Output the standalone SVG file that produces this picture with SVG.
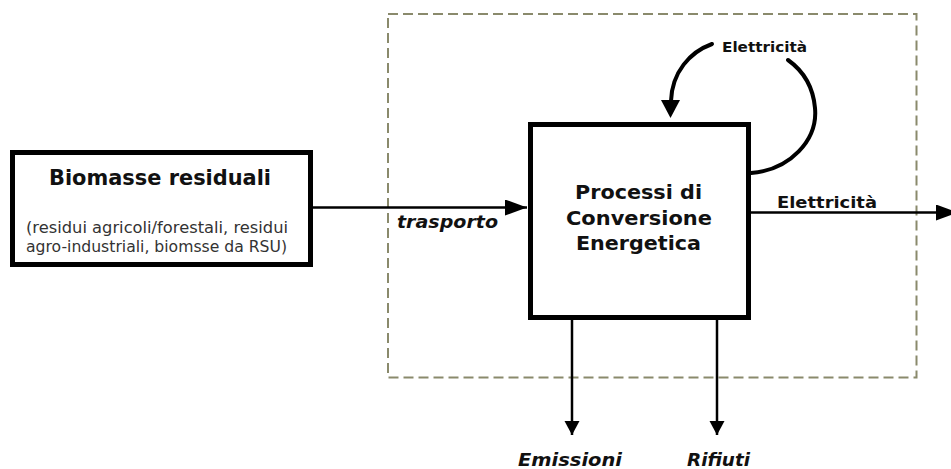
<svg xmlns="http://www.w3.org/2000/svg" width="951" height="469" viewBox="0 0 951 469">
<style>
.box{fill:#fff;stroke:#000;stroke-width:5}
.ln{fill:none;stroke:#000;stroke-width:2.5}
.thick{fill:none;stroke:#000;stroke-width:4;stroke-linecap:round}
.b{font-family:"DejaVu Sans",Verdana,sans-serif;font-weight:bold;fill:#111}
.bi{font-family:"DejaVu Sans",Verdana,sans-serif;font-weight:bold;font-style:italic;fill:#111}
.r{font-family:"DejaVu Sans",Verdana,sans-serif;fill:#333}
</style>
<defs>
<marker id="ah" markerUnits="userSpaceOnUse" markerWidth="24" markerHeight="16" refX="22" refY="8" orient="auto">
<path d="M0,0 L22,8 L0,16 Z" fill="#000"/>
</marker>
<marker id="ahs" markerUnits="userSpaceOnUse" markerWidth="16" markerHeight="16" refX="14" refY="7.5" orient="auto">
<path d="M0,0 L14,7.5 L0,15 Z" fill="#000"/>
</marker>
</defs>
<rect x="388" y="14" width="528.5" height="363.5" fill="none" stroke="#8a8a6c" stroke-width="2" stroke-dasharray="10,5"/>
<g id="connectors">
<line class="ln" x1="313" y1="207.5" x2="527" y2="207.5" marker-end="url(#ah)"/>
<line class="ln" x1="751" y1="212.5" x2="958" y2="212.5" marker-end="url(#ah)"/>
<line class="ln" x1="572" y1="320" x2="572" y2="435" marker-end="url(#ahs)"/>
<line class="ln" x1="717" y1="320" x2="717" y2="435" marker-end="url(#ahs)"/>
<path class="thick" d="M751,173 C790,170 818,140 815,108 C813,85 802,70 788,60"/>
<path class="thick" d="M712,44 C690,52 672,72 671,101"/>
<path d="M661,100 L680,100 L670.5,118 Z" fill="#000"/>
<text class="bi" x="397" y="228" font-size="17" textLength="101" lengthAdjust="spacingAndGlyphs">trasporto</text>
<text class="b" x="777" y="208" font-size="16" textLength="100" lengthAdjust="spacingAndGlyphs">Elettricità</text>
<text class="b" x="722" y="52" font-size="14" textLength="85" lengthAdjust="spacingAndGlyphs">Elettricità</text>
<text class="bi" x="518" y="466" font-size="17" textLength="104" lengthAdjust="spacingAndGlyphs">Emissioni</text>
<text class="bi" x="687" y="466" font-size="17" textLength="63" lengthAdjust="spacingAndGlyphs">Rifiuti</text>
</g>
<g id="biomasse">
<rect class="box" x="12.5" y="152.5" width="298" height="112"/>
<text class="b" x="49" y="185" font-size="20.5" textLength="222" lengthAdjust="spacingAndGlyphs">Biomasse residuali</text>
<text class="r" x="26" y="233" font-size="15" textLength="262" lengthAdjust="spacingAndGlyphs">(residui agricoli/forestali, residui</text>
<text class="r" x="26" y="252" font-size="15" textLength="261" lengthAdjust="spacingAndGlyphs">agro-industriali, biomsse da RSU)</text>
</g>
<g id="processi">
<rect class="box" x="530.5" y="124.5" width="218" height="193"/>
<text class="b" x="575" y="199" font-size="19.5" textLength="127" lengthAdjust="spacingAndGlyphs">Processi di</text>
<text class="b" x="566" y="225" font-size="19.5" textLength="146" lengthAdjust="spacingAndGlyphs">Conversione</text>
<text class="b" x="576" y="250" font-size="19.5" textLength="125" lengthAdjust="spacingAndGlyphs">Energetica</text>
</g>
</svg>
